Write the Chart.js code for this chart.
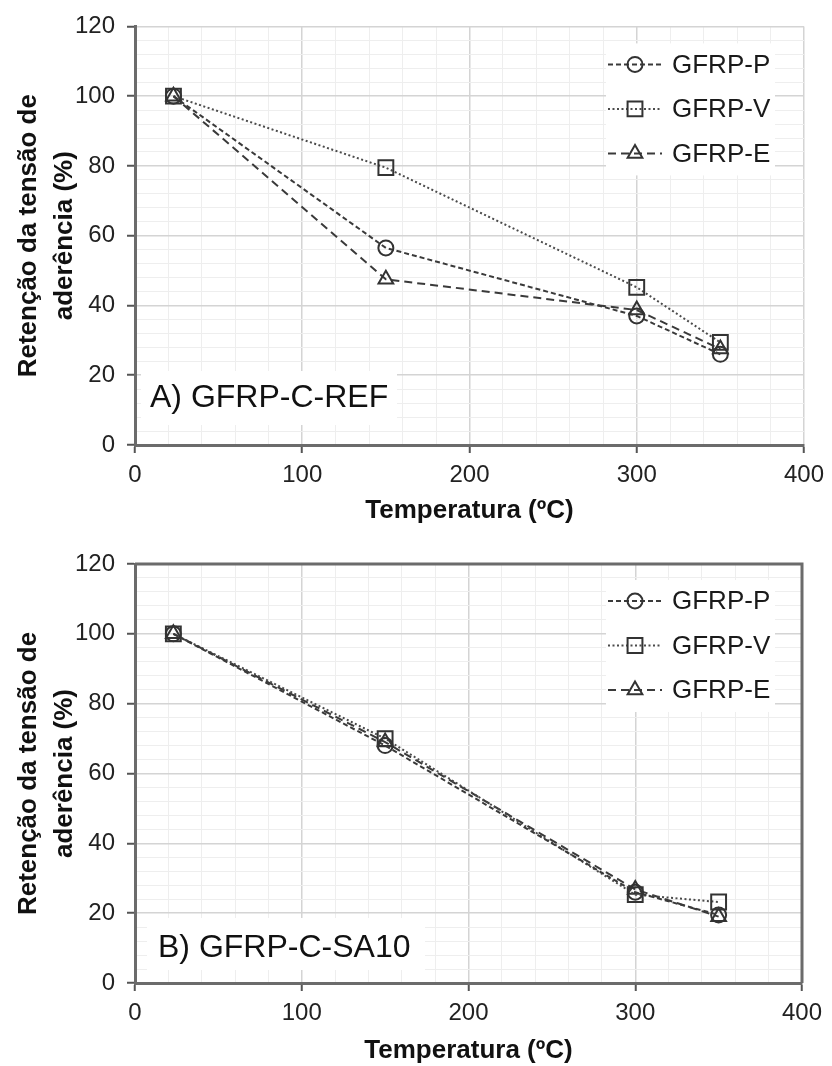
<!DOCTYPE html>
<html>
<head>
<meta charset="utf-8">
<script src="https://cdn.jsdelivr.net/npm/chart.js@4.4.1/dist/chart.umd.min.js"></script>
<style>
  html, body { margin: 0; padding: 0; background: #fff; }
  .wrap { position: absolute; left: 0; width: 832px; height: 533px; }
</style>
</head>
<body>
<div class="wrap" style="top:0"><canvas id="chartA"></canvas></div>
<div class="wrap" style="top:533px"><canvas id="chartB"></canvas></div>
<script>
// data
const temps = [23, 150, 300, 350];
const seriesNames = ['GFRP-P', 'GFRP-V', 'GFRP-E'];

const refP = [100, 56.5, 37, 26];
const refV = [100, 79.5, 45.2, 29.4];
const refE = [100, 47.5, 38.7, 27.5];

const sa10P = [100, 68, 26, 19.5];
const sa10V = [100, 70, 25.3, 23.2];
const sa10E = [100, 69, 26.8, 19];

const xTickLabels = [0, 100, 200, 300, 400];
const yTickLabels = [0, 20, 40, 60, 80, 100, 120];

const xTitle = 'Temperatura (ºC)';
const yTitle = ['Retenção da tensão de', 'aderência (%)'];

Chart.defaults.font.family = '"Liberation Sans", Arial, sans-serif';
Chart.defaults.color = '#222';

const lineStyles = [
  { dash: [5, 3], point: 'circle', radius: 7.5, color: '#3a3a3a' },
  { dash: [2, 2.5], point: 'rect', radius: 10.5, color: '#4a4a4a' },
  { dash: [8, 5], point: 'triangle', radius: 8.5, color: '#3a3a3a' }
];

const isMajor = (list, v) => list.includes(Math.round(v));

// legend, panel label and (optional) frame drawn on top of the plot
const panelDecor = {
  id: 'panelDecor',
  afterDraw(chart, args, o) {
    const ctx = chart.ctx;
    const a = chart.chartArea;
    ctx.save();

    if (o.frame) {
      ctx.strokeStyle = '#6b6b6b';
      ctx.lineWidth = 3;
      ctx.beginPath();
      ctx.moveTo(a.left, a.top);
      ctx.lineTo(a.right, a.top);
      ctx.lineTo(a.right, a.bottom);
      ctx.stroke();
    }

    // panel label
    ctx.fillStyle = '#fff';
    ctx.fillRect(a.left + o.labelBox[0], a.bottom - o.labelBox[1], o.labelBox[2], o.labelBox[3]);
    ctx.fillStyle = '#111';
    ctx.font = '32px "Liberation Sans", Arial, sans-serif';
    ctx.textBaseline = 'alphabetic';
    ctx.fillText(o.label, a.left + o.labelAt[0], a.bottom - o.labelAt[1]);

    // legend
    const lx = a.left + 471, ly = a.top + o.legendTop;
    ctx.fillStyle = '#fff';
    ctx.fillRect(lx, ly, 169, 132);
    chart.data.datasets.forEach((ds, i) => {
      const y = ly + 21 + i * 44.5;
      ctx.strokeStyle = ds.borderColor;
      ctx.lineWidth = 2;
      ctx.setLineDash(ds.borderDash);
      ctx.beginPath();
      ctx.moveTo(a.left + 473, y);
      ctx.lineTo(a.left + 527, y);
      ctx.stroke();
      ctx.setLineDash([]);
      ctx.strokeStyle = ds.pointBorderColor;
      ctx.fillStyle = 'rgba(255,255,255,0)';
      Chart.helpers.drawPoint(ctx, {
        pointStyle: ds.pointStyle,
        radius: ds.pointRadius,
        rotation: 0,
        borderWidth: 2
      }, a.left + 500, y);
      ctx.fillStyle = '#1a1a1a';
      ctx.font = '26px "Liberation Sans", Arial, sans-serif';
      ctx.textBaseline = 'middle';
      ctx.fillText(ds.label, a.left + 537, y + 1);
    });
    ctx.restore();
  }
};

function makeChart(id, series, layout, decor) {
  const datasets = series.map((vals, i) => ({
    label: seriesNames[i],
    data: temps.map((t, k) => ({ x: t, y: vals[k] })),
    borderColor: lineStyles[i].color,
    borderWidth: 2,
    borderDash: lineStyles[i].dash,
    pointStyle: lineStyles[i].point,
    pointRadius: lineStyles[i].radius,
    pointBorderColor: '#333',
    pointBorderWidth: 2,
    pointBackgroundColor: 'rgba(255,255,255,0)',
    tension: 0
  }));

  return new Chart(document.getElementById(id), {
    type: 'line',
    data: { datasets },
    options: {
      responsive: true,
      maintainAspectRatio: false,
      animation: false,
      layout: { padding: layout.padding },
      plugins: {
        legend: { display: false },
        tooltip: { enabled: false },
        panelDecor: decor
      },
      scales: {
        x: {
          type: 'linear',
          min: 0,
          max: 400,
          afterFit: s => { s.height = layout.xHeight; },
          ticks: {
            stepSize: 20,
            autoSkip: false,
            maxRotation: 0,
            padding: 8,
            font: { size: 24 },
            color: '#222',
            callback: v => isMajor(xTickLabels, v) ? String(v) : ''
          },
          grid: {
            color: c => (c.tick && isMajor(xTickLabels, c.tick.value)) ? '#d4d4d4' : '#eeeeee',
            lineWidth: c => (c.tick && isMajor(xTickLabels, c.tick.value)) ? 1.5 : 1,
            tickColor: c => (c.tick && isMajor(xTickLabels, c.tick.value)) ? '#555' : 'rgba(0,0,0,0)',
            tickLength: 8,
            tickWidth: 2
          },
          border: { color: '#6b6b6b', width: 3 },
          title: {
            display: true,
            text: xTitle,
            font: { size: 26, weight: 'bold' },
            color: '#111',
            padding: { top: 0, bottom: layout.xTitlePad }
          }
        },
        y: {
          min: 0,
          max: 120,
          afterFit: s => { s.width = 135; },
          ticks: {
            stepSize: 4,
            autoSkip: false,
            padding: 12,
            font: { size: 24 },
            color: '#222',
            callback: v => isMajor(yTickLabels, v) ? String(v) : ''
          },
          grid: {
            color: c => (c.tick && isMajor(yTickLabels, c.tick.value)) ? '#d4d4d4' : '#eeeeee',
            lineWidth: c => (c.tick && isMajor(yTickLabels, c.tick.value)) ? 1.5 : 1,
            tickColor: c => (c.tick && isMajor(yTickLabels, c.tick.value)) ? '#555' : 'rgba(0,0,0,0)',
            tickLength: 8,
            tickWidth: 2
          },
          border: { color: '#6b6b6b', width: 3 },
          title: {
            display: true,
            text: yTitle,
            font: { size: 26, weight: 'bold', lineHeight: 1.38 },
            color: '#111',
            padding: { top: 11, bottom: 0 }
          }
        }
      }
    },
    plugins: [panelDecor]
  });
}

makeChart('chartA', [refP, refV, refE],
  { padding: { top: 23, right: 26, bottom: 0, left: 0 }, xHeight: 88, xTitlePad: 7 },
  { label: 'A) GFRP-C-REF', labelBox: [6, 74, 256, 54], labelAt: [15, 38], legendTop: 17, frame: false });

makeChart('chartB', [sa10P, sa10V, sa10E],
  { padding: { top: 31, right: 30, bottom: 0, left: 0 }, xHeight: 83, xTitlePad: 0 },
  { label: 'B) GFRP-C-SA10', labelBox: [12, 65, 278, 52], labelAt: [23, 26], legendTop: 16, frame: true });
</script>
</body>
</html>
